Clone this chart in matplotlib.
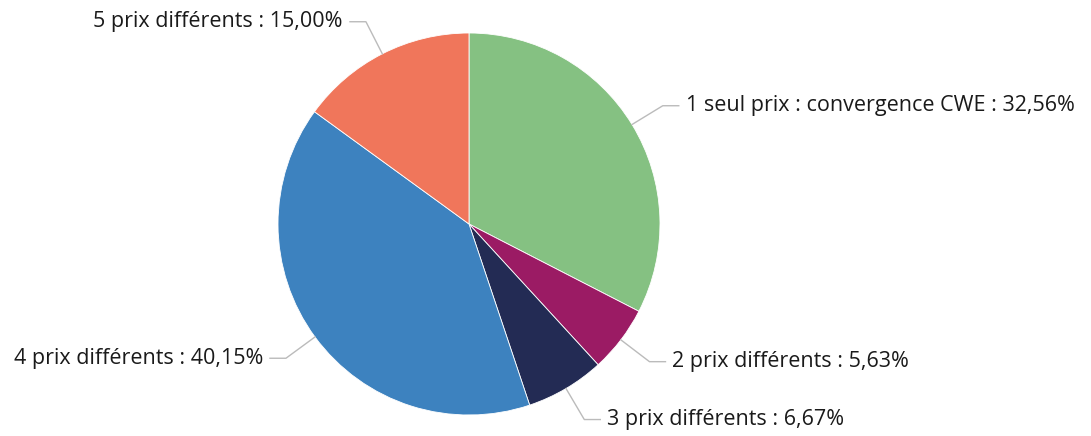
import numpy as np
import matplotlib.pyplot as plt

# données
labels = ['1 seul prix : convergence CWE', '2 prix différents', '3 prix différents',
          '4 prix différents', '5 prix différents']
values = [32.56, 5.63, 6.67, 40.15, 15.00]
pct_text = ['32,56%', '5,63%', '6,67%', '40,15%', '15,00%']
colors = ['#85C182', '#9B1B64', '#232B54', '#3D82BF', '#F0765B']

plt.rcParams['font.family'] = ['Open Sans', 'DejaVu Sans']

fig = plt.figure(figsize=(10.91, 4.36), dpi=100)
ax = fig.add_axes([0, 0, 1, 1])

cx, cy, R = 469, 212, 191
wedges, _ = ax.pie(values, colors=colors, startangle=90, counterclock=False,
                   center=(cx, cy), radius=R, frame=True,
                   wedgeprops=dict(linewidth=0.6, edgecolor='white'))
ax.set_xlim(0, 1091)
ax.set_ylim(0, 436)
ax.set_aspect('equal')
ax.axis('off')

# étiquettes avec lignes de rappel
for w, lab, p in zip(wedges, labels, pct_text):
    a = np.deg2rad((w.theta1 + w.theta2) / 2)
    x0, y0 = cx + R * np.cos(a), cy + R * np.sin(a)
    x1, y1 = cx + (R + 36) * np.cos(a), cy + (R + 36) * np.sin(a)
    s = 1 if np.cos(a) > 0 else -1
    x2 = x1 + s * 16
    ax.plot([x0, x1, x2], [y0, y1, y1], color='#BBBBBB', lw=1)
    ax.text(x2 + s * 7, y1, f'{lab} : {p}', ha='left' if s > 0 else 'right',
            va='center', fontsize=15.5, color='#1a1a1a')

fig.savefig('out.png', dpi=100)
